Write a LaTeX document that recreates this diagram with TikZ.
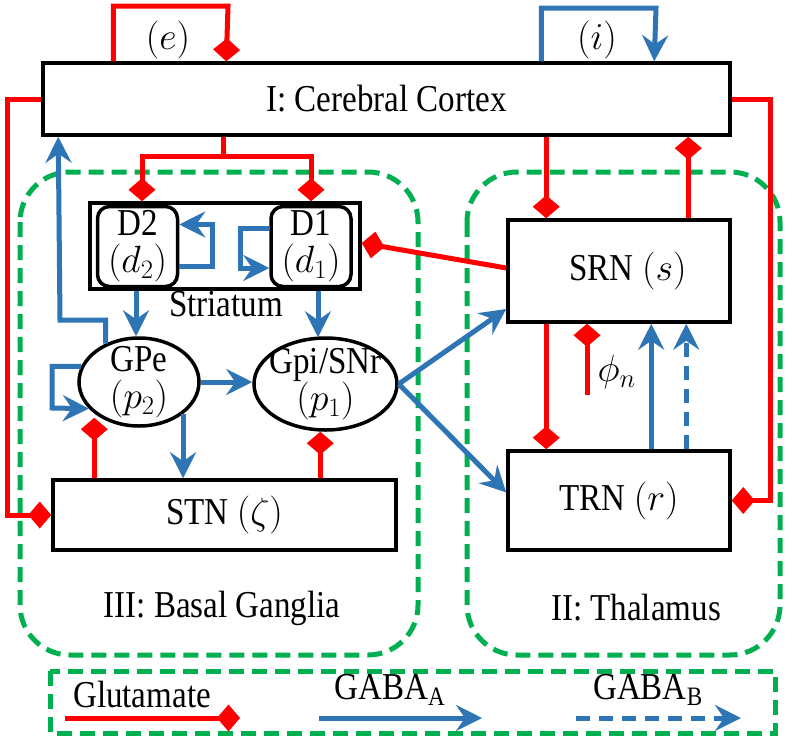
\RequirePackage{fix-cm}
\documentclass[tikz,border=0pt]{standalone}
\usepackage{fontspec}
\setmainfont{Liberation Serif}[FakeStretch=0.87]
\usetikzlibrary{arrows.meta,shapes.geometric,calc}
\definecolor{gred}{RGB}{255,0,0}
\definecolor{gblue}{RGB}{46,117,182}
\definecolor{ggreen}{RGB}{0,176,80}
\begin{document}
\begin{tikzpicture}[x=1pt,y=-1pt,font=\fontsize{38}{37}\selectfont,
  box/.style={draw=black,line width=3.5pt,inner sep=0pt},
  rbox/.style={box,rounded corners=12pt},
  oval/.style={ellipse,draw=black,line width=3.5pt,inner sep=0pt},
  glu/.style={draw=gred,line width=5pt,-{Diamond[length=23pt,width=27pt]}},
  gluline/.style={draw=gred,line width=5pt},
  ga/.style={draw=gblue,line width=5pt,-{Stealth[length=26pt,width=26pt,inset=9pt]}},
  gb/.style={ga,dash pattern=on 14pt off 9pt},
  region/.style={draw=ggreen,line width=5pt,dash pattern=on 15pt off 8pt}]
\useasboundingbox (0,0) rectangle (792,742);

% regions
\draw[region,rounded corners=50pt] (20,172) rectangle (418,655);
\draw[region,rounded corners=50pt] (467,172) rectangle (780,655);
\draw[region] (50,671) rectangle (775,733);
\node (lbg) at (222,608) {III: Basal Ganglia};
\node (lth) at (636,608) {II: Thalamus};

% nodes
\node[box,minimum width=687pt,minimum height=72pt] (cortex) at (386.5,99) {I: Cerebral Cortex};
\node[box,minimum width=270pt,minimum height=86pt] (striatum) at (225,246) {};
\node[rbox,minimum width=80pt,minimum height=80pt,align=center] (D2) at (137.5,246.5) {D2\\$(d_2)$};
\node[rbox,minimum width=80pt,minimum height=80pt,align=center] (D1) at (311,246.5) {D1\\$(d_1)$};
\node (strl) at (226,304) {Striatum};
\node[oval,minimum width=120pt,minimum height=88pt] (GPe) at (139,382) {};
\node[align=center] (GPeT) at (GPe) {GPe\\$(p_2)$};
\node[oval,minimum width=143pt,minimum height=92pt] (Gpi) at (325.5,384) {};
\node[align=center] (GpiT) at (Gpi) {Gpi/SNr\\$(p_1)$};
\node[box,minimum width=343pt,minimum height=70pt] (STN) at (224.5,515) {STN $(\zeta)$};
\node[box,minimum width=222pt,minimum height=102pt] (SRN) at (619,271) {\hspace*{18pt}SRN $(s)$};
\node[box,minimum width=222pt,minimum height=99pt] (TRN) at (619,500.5) {TRN $(r)$};

% cortex self loops
\draw[glu] ([xshift=72pt]cortex.north west) |- (228,6) -- ([xshift=185pt]cortex.north west);
\node (le) at (168,40) {$(e)$};
\draw[ga] ([xshift=500pt]cortex.north west) |- (656,8) -- ([xshift=613pt]cortex.north west);
\node (li) at (597,40) {$(i)$};

% cortex side loops
\draw[glu] (cortex.west) -| (7,515) -- (STN.west);
\draw[glu] (cortex.east) -| (770,500.5) -- (TRN.east);

% cortex to striatum
\draw[gluline] ([xshift=182pt]cortex.south west) -- ++(0,20) coordinate (split);
\draw[glu] (split) -| ([xshift=-83pt]striatum.north);
\draw[glu] (split) -| ([xshift=86pt]striatum.north);

% striatum internal loops
\draw[ga] ([yshift=-20pt]D2.east) -| (212,224.5) -- ([yshift=22pt]D2.east);
\draw[ga] ([yshift=18.5pt]D1.west) -| (240,268) -- ([yshift=-21.5pt]D1.west);

% striatum to pallidum
\draw[ga] ([xshift=-89pt]striatum.south) -- ([xshift=-89pt]striatum.south |- GPe.north);
\draw[ga] ([xshift=93pt]striatum.south) -- ([xshift=93pt,yshift=-1pt]striatum.south |- Gpi.north);

% GPe to cortex
\draw[ga] (GPe.131) |- (60,320) -- ([xshift=17pt]cortex.south west);

% GPe self loop
\draw[ga] (GPe.165) -| (52,408) -- (GPe.208);

% GPe -> Gpi, GPe -> STN
\draw[ga] (GPe.east) -- (GPe.east -| Gpi.west);
\draw[ga] (GPe.-36) -- (GPe.-36 |- STN.north);

% STN -> GPe, STN -> Gpi
\draw[glu] ([xshift=43pt]STN.north west) -- ([xshift=43pt,yshift=10pt]STN.north west |- GPe.south);
\draw[glu] ([xshift=269pt]STN.north west) -- ([xshift=269pt]STN.north west |- Gpi.south);

% Gpi -> thalamus
\draw[ga] (Gpi.east) -- ([yshift=-38pt]SRN.west);
\draw[ga] (Gpi.east) -- ([yshift=8pt]TRN.west);

% cortex <-> SRN
\draw[glu] ([xshift=40pt]SRN.north west |- cortex.south) -- ([xshift=40pt]SRN.north west);
\draw[glu] ([xshift=182pt]SRN.north west) -- ([xshift=182pt]SRN.north west |- cortex.south);

% SRN -> striatum
\draw[glu] ([yshift=3pt]SRN.west) -- ([yshift=3pt]striatum.east);

% SRN <-> TRN
\draw[glu] ([xshift=40pt]SRN.south west) -- ([xshift=40pt]TRN.north west);
\draw[ga] ([xshift=145pt]TRN.north west) -- ([xshift=145pt]SRN.south west);
\draw[gb] ([xshift=180pt]TRN.north west) -- ([xshift=180pt]SRN.south west);

% phi_n
\coordinate (phi) at (587,395);
\draw[glu] (phi) -- (phi |- SRN.south);
\node[anchor=west] (lphi) at (594,372) {$\phi_n$};

% legend
\node (lglu) at (142,694) {Glutamate};
\node (lga) at (390,690) {GABA\textsubscript{A}};
\node (lgb) at (648,690) {GABA\textsubscript{B}};
\coordinate (g1s) at (65,718);
\coordinate (g1e) at (240,718);
\coordinate (g2s) at (319,718);
\coordinate (g2e) at (482,718);
\coordinate (g3s) at (576,718);
\coordinate (g3e) at (741,718);
\draw[glu] (g1s) -- (g1e);
\draw[ga] (g2s) -- (g2e);
\draw[gb] (g3s) -- (g3e);
\end{tikzpicture}
\end{document}
